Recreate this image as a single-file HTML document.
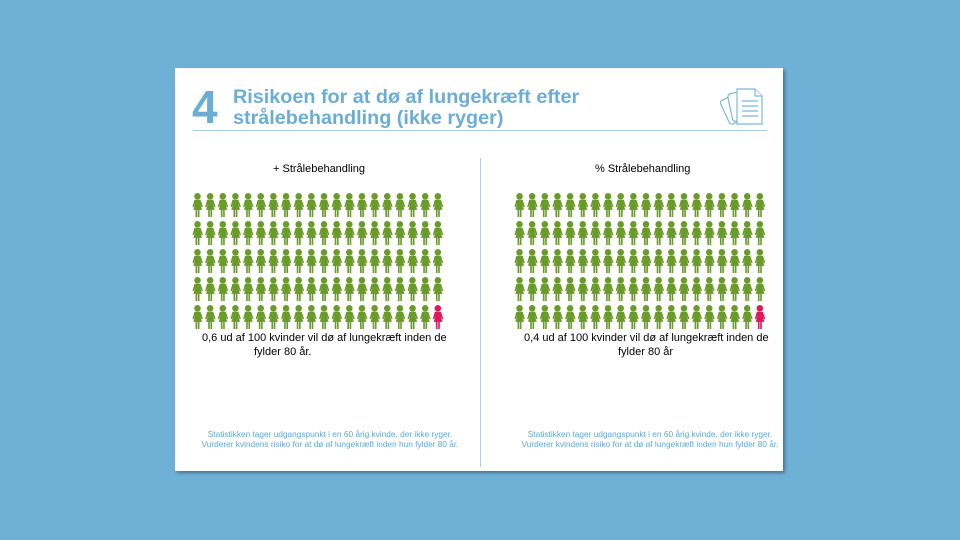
<!DOCTYPE html>
<html><head><meta charset="utf-8"><style>
body{margin:0;width:960px;height:540px;background:#6fb0d6;position:relative;overflow:hidden;font-family:"Liberation Sans",sans-serif}
.card{position:absolute;left:175px;top:68px;width:608px;height:403px;background:#fff;box-shadow:2px 2px 3px rgba(0,0,0,.35)}
.t{position:absolute;color:#6aaed6;font-weight:bold}
.a{position:absolute;font-size:11px;color:#000;white-space:nowrap}
.n{position:absolute;font-size:8.3px;color:#5aaad8;text-align:center;line-height:9.5px;white-space:nowrap}
</style></head><body>
<div class="card"></div>
<div class="t" style="left:192px;top:82px;font-size:46px;line-height:50px">4</div>
<div class="t" style="left:233px;top:87px;font-size:19.8px;line-height:21px">Risikoen for at dø af lungekræft efter<br>strålebehandling (ikke ryger)</div>
<div style="position:absolute;left:193px;top:130px;width:574px;height:1px;background:#a9cfe6"></div>
<svg style="position:absolute;left:720px;top:86px" width="50" height="44" viewBox="0 0 50 44" fill="#fff" stroke="#7ab8de" stroke-width="1.2">
<rect x="4" y="10" width="20" height="26" rx="3" transform="rotate(-25 14 23)"/>
<rect x="10" y="6" width="20" height="28" rx="3" transform="rotate(-12 20 20)"/>
<path d="M17 3h18l7 7v28h-25z"/><path d="M35 3v7h7"/>
<path d="M22 15h16M22 20h16M22 25h16M22 30h16"/></svg>
<div style="position:absolute;left:480px;top:158px;width:1px;height:309px;background:#a9cfe6"></div>
<div class="a" style="left:273px;top:163px">+ Strålebehandling</div>
<div class="a" style="left:595px;top:163px">% Strålebehandling</div>
<svg width="0" height="0" style="position:absolute"><defs><symbol id="w" viewBox="0 0 10 22"><circle cx="5" cy="3" r="3"/><path d="M2.2 6.2h5.6l2.2 6.4-1.2.5-1.4-3.4 1.8 5.8H6.8v6.5H5.3v-6.5h-.6v6.5H3.2v-6.5H1.2l1.8-5.8-1.4 3.4-1.2-.5z"/></symbol></defs></svg>
<svg id="g1" style="position:absolute;left:192px;top:193px" width="256" height="140"></svg>
<svg id="g2" style="position:absolute;left:514px;top:193px" width="256" height="140"></svg>
<div class="a" style="left:202px;top:331px;line-height:14px">0,6 ud af 100 kvinder vil dø af lungekræft inden de<br><span style="padding-left:52px">fylder 80 år.</span></div>
<div class="a" style="left:524px;top:331px;line-height:14px">0,4 ud af 100 kvinder vil dø af lungekræft inden de<br><span style="padding-left:94px">fylder 80 år</span></div>
<div class="n" style="left:180px;top:430px;width:300px">Statistikken tager udgangspunkt i en 60 årig kvinde, der ikke ryger.<br>Vurderer kvindens risiko for at dø af lungekræft inden hun fylder 80 år.</div>
<div class="n" style="left:500px;top:430px;width:300px">Statistikken tager udgangspunkt i en 60 årig kvinde, der ikke ryger.<br>Vurderer kvindens risiko for at dø af lungekræft inden hun fylder 80 år.</div>
<script>
for(const id of ['g1','g2']){let s='';for(let r=0;r<5;r++)for(let c=0;c<20;c++){const red=r==4&&c==19;s+=`<use href="#w" x="${c*12.65}" y="${r*28}" width="11" height="24" fill="${red?'#e0185a':'#6a9a2a'}"/>`;}document.getElementById(id).innerHTML=s;}
</script>
</body></html>
